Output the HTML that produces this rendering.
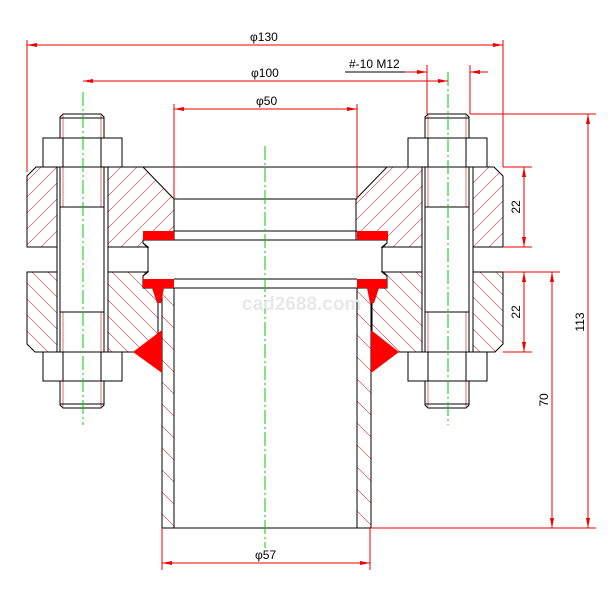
<!DOCTYPE html>
<html><head><meta charset="utf-8"><style>html,body{margin:0;padding:0;background:#fff}svg{display:block}</style></head><body>
<svg width="610" height="610" viewBox="0 0 610 610" xmlns="http://www.w3.org/2000/svg" font-family="Liberation Sans, sans-serif">
<defs>
<pattern id="hf" patternUnits="userSpaceOnUse" width="16" height="16"><path d="M-2,18 L18,-2 M-9,9 L9,-9 M7,25 L25,7" stroke="#c33" stroke-width="0.6"/></pattern>
<pattern id="hb" patternUnits="userSpaceOnUse" width="16" height="16"><path d="M-2,-2 L18,18 M-9,7 L9,25 M7,-9 L25,9" stroke="#c33" stroke-width="0.6"/></pattern>
<pattern id="hp" patternUnits="userSpaceOnUse" width="22" height="22"><path d="M-2,-2 L24,24 M-13,9 L13,35 M9,-13 L35,13" stroke="#c33" stroke-width="0.6"/></pattern>
<marker id="a" viewBox="0 0 10 4" refX="10" refY="2" markerWidth="10" markerHeight="4" orient="auto-start-reverse" markerUnits="userSpaceOnUse"><path d="M0,0 L10,2 L0,4Z" fill="#e00"/></marker>
</defs>
<rect width="610" height="610" fill="#fff"/>
<g stroke="#000" stroke-width="1">
<path d="M36,167 L143,167 L174,199 L174,240 L143,240 L143,243 L148,247 L27,247 L27,176 Z" fill="url(#hf)"/>
<path d="M494,167 L387,167 L356,199 L356,240 L387,240 L387,243 L382,247 L503,247 L503,176 Z" fill="url(#hf)"/>
<path d="M27,272 L148,272 L143,276 L143,288 L158,288 L158,352 L35,352 L27,344 Z" fill="url(#hb)"/>
<path d="M503,272 L382,272 L387,276 L387,288 L372,288 L372,352 L495,352 L503,344 Z" fill="url(#hb)"/>
<rect x="162" y="288" width="12" height="240" fill="url(#hp)"/>
<rect x="357" y="288" width="14" height="240" fill="url(#hp)"/>
<line x1="143" y1="167" x2="387" y2="167"/>
<line x1="174" y1="199" x2="357" y2="199"/>
<line x1="174" y1="231" x2="357" y2="231"/>
<line x1="174" y1="240" x2="357" y2="240"/>
<line x1="174" y1="279" x2="357" y2="279"/>
<line x1="174" y1="288" x2="357" y2="288"/>
<line x1="162" y1="528" x2="371" y2="528"/>
<path d="M143,240 L143,243 L148,248 L148,271 L143,276 L143,279" fill="none"/>
<path d="M387,240 L387,243 L382,248 L382,271 L387,276 L387,279" fill="none"/>
<line x1="104" y1="247" x2="148" y2="247"/><line x1="104" y1="272" x2="148" y2="272"/>
<line x1="382" y1="247" x2="427" y2="247"/><line x1="382" y1="272" x2="427" y2="272"/>
</g>
<g id="bolt" stroke="#000" stroke-width="1">
<rect x="57" y="167" width="51" height="185" fill="#fff" stroke="none"/>
<line x1="57" y1="167" x2="57" y2="352"/><line x1="108" y1="167" x2="108" y2="352"/>
<line x1="60" y1="167" x2="60" y2="352"/><line x1="104" y1="167" x2="104" y2="352"/>
<path d="M60,405 L60,117 L63,114 L101,114 L104,117 L104,405 L101,408 L63,408 Z" fill="#fff"/>
<line x1="63" y1="114" x2="63" y2="207" stroke="#c33" stroke-width="0.7"/><line x1="101" y1="114" x2="101" y2="207" stroke="#c33" stroke-width="0.7"/>
<line x1="63" y1="312" x2="63" y2="408" stroke="#c33" stroke-width="0.7"/><line x1="101" y1="312" x2="101" y2="408" stroke="#c33" stroke-width="0.7"/>
<line x1="60" y1="207" x2="104" y2="207"/><line x1="60" y1="312" x2="104" y2="312"/>
<line x1="60" y1="404" x2="104" y2="404"/><line x1="60" y1="118" x2="104" y2="118"/>
<rect x="43" y="138" width="79" height="29" fill="#fff"/><line x1="63" y1="138" x2="63" y2="167"/><line x1="101" y1="138" x2="101" y2="167"/>
<rect x="43" y="352" width="79" height="29" fill="#fff"/><line x1="63" y1="352" x2="63" y2="381"/><line x1="101" y1="352" x2="101" y2="381"/>
</g>
<use href="#bolt" transform="translate(365,0)"/>
<g fill="#f00">
<rect x="143" y="231" width="31" height="9"/><rect x="357" y="231" width="31" height="9"/>
<path d="M143,279 L174,279 L174,288 L164,288 L161,303 L157,303 L152,288 L143,288 Z"/>
<path d="M387,279 L357,279 L357,288 L367,288 L370,303 L374,303 L379,288 L387,288 Z"/>
<path d="M133,352 L162,330 L162,373 Z"/><path d="M399,352 L371,330 L371,373 Z"/>
</g>
<g stroke="#0c0" stroke-width="1" stroke-dasharray="14,3,2,3">
<line x1="265" y1="146" x2="265" y2="548"/><line x1="83" y1="92" x2="83" y2="425"/><line x1="448" y1="72" x2="448" y2="425"/>
</g>
<g stroke="#e00" stroke-width="1" fill="none">
<line x1="27" y1="40" x2="27" y2="172"/><line x1="503" y1="40" x2="503" y2="167"/>
<line x1="27" y1="45" x2="503" y2="45" marker-start="url(#a)" marker-end="url(#a)"/>
<line x1="83" y1="81" x2="448" y2="81" marker-start="url(#a)" marker-end="url(#a)"/>
<line x1="174" y1="104" x2="174" y2="199"/><line x1="357" y1="104" x2="357" y2="199"/>
<line x1="174" y1="109" x2="357" y2="109" marker-start="url(#a)" marker-end="url(#a)"/>
<line x1="427" y1="65" x2="427" y2="114"/><line x1="470" y1="65" x2="470" y2="114"/>
<line x1="345" y1="72" x2="427" y2="72" marker-end="url(#a)"/>
<line x1="488" y1="72" x2="470" y2="72" marker-end="url(#a)"/>
<line x1="470" y1="114" x2="596" y2="114"/>
<line x1="503" y1="167" x2="532" y2="167"/><line x1="503" y1="247" x2="532" y2="247"/>
<line x1="503" y1="272" x2="560" y2="272"/><line x1="503" y1="352" x2="532" y2="352"/>
<line x1="371" y1="528" x2="596" y2="528"/>
<line x1="524" y1="167" x2="524" y2="247" marker-start="url(#a)" marker-end="url(#a)"/>
<line x1="524" y1="272" x2="524" y2="352" marker-start="url(#a)" marker-end="url(#a)"/>
<line x1="552" y1="272" x2="552" y2="528" marker-start="url(#a)" marker-end="url(#a)"/>
<line x1="588" y1="114" x2="588" y2="528" marker-start="url(#a)" marker-end="url(#a)"/>
<line x1="162" y1="528" x2="162" y2="570"/><line x1="370" y1="528" x2="370" y2="570"/>
<line x1="162" y1="563" x2="370" y2="563" marker-start="url(#a)" marker-end="url(#a)"/>
<line x1="345" y1="72" x2="405" y2="72" stroke="#000"/>
</g>
<g font-size="12" fill="#000">
<text x="250" y="41">φ130</text>
<text x="251" y="77">φ100</text>
<text x="256" y="105">φ50</text>
<text x="349" y="68">#-10 M12</text>
<text x="255" y="559">φ57</text>
<text transform="translate(520,207) rotate(-90)" text-anchor="middle">22</text>
<text transform="translate(520,312) rotate(-90)" text-anchor="middle">22</text>
<text transform="translate(548,400) rotate(-90)" text-anchor="middle">70</text>
<text transform="translate(584,322) rotate(-90)" text-anchor="middle">113</text>
</g>
<text x="242" y="310" font-size="19" font-weight="bold" fill="#e8e8e8">cad2688.com</text>
</svg>
</body></html>
